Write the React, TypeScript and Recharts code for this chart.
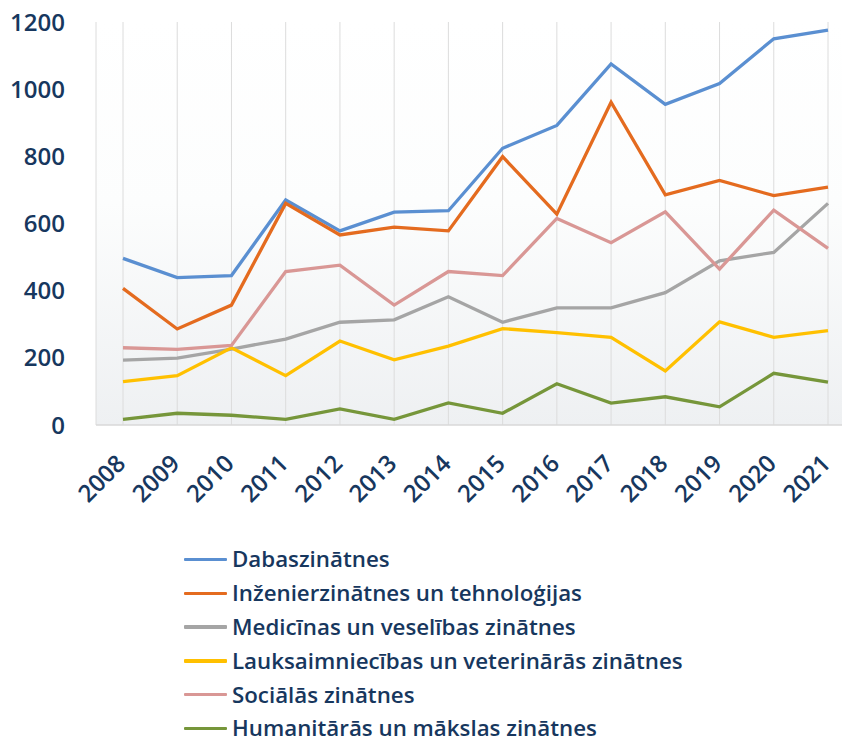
import React from "react";
import { LineChart, Line, XAxis, YAxis, CartesianGrid, Legend } from "recharts";

const years = ["2008", "2009", "2010", "2011", "2012", "2013", "2014", "2015", "2016", "2017", "2018", "2019", "2020", "2021"];
const dabas = [496, 439, 445, 670, 578, 634, 638, 824, 892, 1075, 955, 1017, 1150, 1176];
const inzen = [407, 286, 357, 660, 566, 589, 578, 799, 628, 961, 685, 728, 683, 708];
const medic = [193, 199, 226, 256, 306, 313, 382, 306, 349, 349, 394, 489, 514, 660];
const lauks = [129, 147, 230, 147, 250, 194, 235, 287, 275, 261, 161, 307, 261, 281];
const social = [230, 225, 237, 457, 476, 357, 457, 445, 615, 543, 635, 464, 640, 526];
const human = [17, 35, 29, 17, 48, 17, 66, 35, 123, 65, 84, 54, 154, 128];
const yTicks = [0, 200, 400, 600, 800, 1000, 1200];

const seriesNames = [
  "Dabaszinātnes",
  "Inženierzinātnes un tehnoloģijas",
  "Medicīnas un veselības zinātnes",
  "Lauksaimniecības un veterinārās zinātnes",
  "Sociālās zinātnes",
  "Humanitārās un mākslas zinātnes",
];
const seriesKeys = ["dabas", "inzen", "medic", "lauks", "social", "human"];
const seriesColors = ["#5A8FD1", "#E46B1F", "#A5A5A5", "#FFC000", "#D99795", "#76963A"];
const seriesValues = [dabas, inzen, medic, lauks, social, human];

const data = years.map((y, i) => {
  const row: Record<string, any> = { year: y };
  seriesKeys.forEach((k, j) => {
    row[k] = seriesValues[j][i];
  });
  return row;
});

const TEXT = "#17375E";
const FONT = "'Open Sans', sans-serif";

const XTick = (props: any) => {
  const { x, y, payload } = props;
  return (
    <text
      x={0}
      y={0}
      transform={`translate(${x + 4},${y + 40}) rotate(-45)`}
      textAnchor="end"
      fill={TEXT}
      fontSize={24}
      fontWeight={600}
      fontFamily={FONT}
    >
      {payload.value}
    </text>
  );
};

const LegendContent = (props: any) => {
  const payload = [...(props.payload || [])].sort(
    (a: any, b: any) => seriesNames.indexOf(a.value) - seriesNames.indexOf(b.value)
  );
  return (
    <div style={{ fontFamily: FONT }}>
      {payload.map((p: any, i: number) => (
        <div key={i} style={{ display: "flex", alignItems: "center", height: 33.8 }}>
          <div style={{ width: 43, height: 3.3, background: p.color, marginRight: 5, borderRadius: 1 }} />
          <div
            style={{
              color: TEXT,
              fontSize: 22.3,
              fontWeight: 600,
              whiteSpace: "nowrap",
              lineHeight: "20px",
              height: 20,
              display: "block",
            }}
          >
            {p.value}
          </div>
        </div>
      ))}
    </div>
  );
};

export default function App() {
  return (
    <div style={{ width: 850, height: 744, margin: "-8px 0 0 -8px" }}>
      <LineChart width={850} height={744} data={data} margin={{ top: 22, right: 0, bottom: 0, left: 0 }}>
        <defs>
          <linearGradient id="plotBg" x1="0" y1="0" x2="0" y2="1">
            <stop offset="0%" stopColor="#ffffff" />
            <stop offset="45%" stopColor="#fcfdfd" />
            <stop offset="100%" stopColor="#eef0f2" />
          </linearGradient>
        </defs>
        <CartesianGrid horizontal={false} vertical={true} stroke="#dcdcdc" fill="url(#plotBg)" />
        <XAxis
          dataKey="year"
          height={319}
          interval={0}
          tickSize={0}
          tickMargin={0}
          tickLine={false}
          axisLine={{ stroke: "#d9d9d9", strokeWidth: 1.5 }}
          padding={{ left: 27, right: 22 }}
          tick={<XTick />}
        />
        <YAxis
          width={96}
          domain={[0, 1200]}
          ticks={yTicks}
          tickSize={0}
          tickMargin={31}
          tickLine={false}
          axisLine={false}
          tick={{ fill: TEXT, fontSize: 24, fontWeight: 600, fontFamily: FONT }}
        />
        <Legend
          layout="vertical"
          align="center"
          verticalAlign="middle"
          wrapperStyle={{ left: 184, top: 542.6, width: 600, height: 200 }}
          content={<LegendContent />}
        />
        {seriesKeys.map((k, j) => (
          <Line
            key={k}
            type="linear"
            dataKey={k}
            name={seriesNames[j]}
            stroke={seriesColors[j]}
            strokeWidth={3.3}
            dot={false}
            activeDot={false}
            isAnimationActive={false}
          />
        ))}
      </LineChart>
    </div>
  );
}
